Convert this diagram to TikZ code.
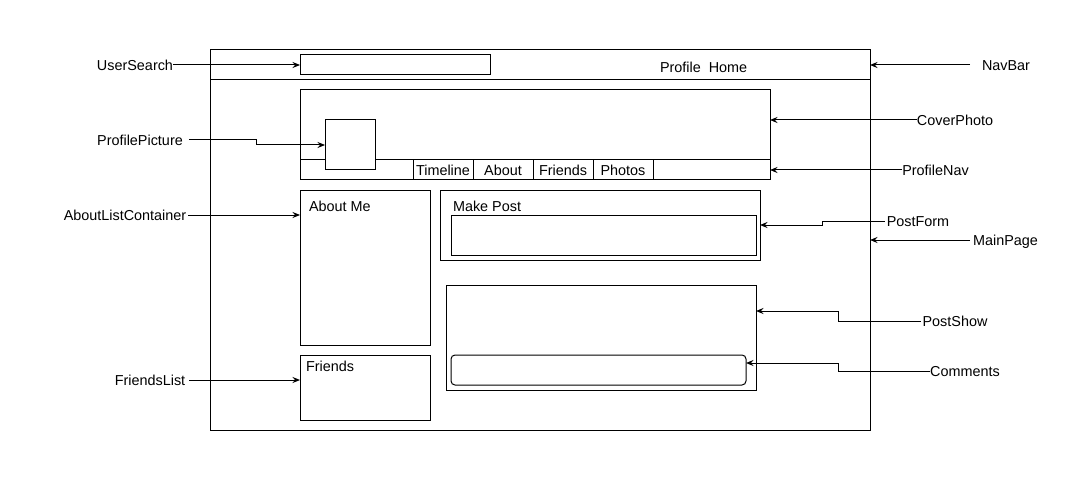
\documentclass[tikz,border=0pt]{standalone}
\usepackage{fontspec}
\setmainfont{Liberation Sans}
\usetikzlibrary{arrows.meta,calc}
\begin{document}
\begin{tikzpicture}[x=1pt,y=-1pt,
  box/.style={draw, line width=1pt, inner sep=0pt, outer sep=0pt, anchor=north west},
  lbl/.style={inner sep=0pt, outer sep=0pt, font=\fontsize{14.4}{17}\selectfont, text height=10.3pt, text depth=0pt},
  arr/.style={line width=1pt, -{Stealth[length=7.5pt,width=6pt,inset=2.5pt]}}]
\fill[white] (0,0) rectangle (1091,481);
\useasboundingbox (0,0) rectangle (1091,481);
% page frame
\node[box, minimum width=660pt, minimum height=380pt] (main) at (210,50) {};
\node[box, minimum width=660pt, minimum height=30pt] (navbar) at (210,50) {};
\node[box, minimum width=190pt, minimum height=20pt] (search) at (300,55) {};
\node[lbl, anchor=west] (plhome) at (660,67) {Profile\hspace{8pt}Home};
% cover
\node[box, minimum width=470pt, minimum height=90pt] (cover) at (300,90) {};
\node[box, minimum width=470pt, minimum height=20pt] (pnav) at (300,160) {};
\foreach \t/\n [count=\i from 0] in {Timeline/tl, About/ab, Friends/fr, Photos/ph}
  \node[box, lbl, anchor=north west, minimum width=60pt, minimum height=20pt] (\n) at (413+60*\i,160) {\t};
\node[box, fill=white, minimum width=50pt, minimum height=50pt] (pic) at (325,120) {};
% left column
\node[box, minimum width=130pt, minimum height=155pt] (aboutme) at (300,190) {};
\node[lbl, anchor=west] (abouttxt) at (309,206) {About Me};
\node[box, minimum width=130pt, minimum height=65pt] (friendsbox) at (300,355) {};
\node[lbl, anchor=west] (friendstxt) at (306,366) {Friends};
% right column
\node[box, minimum width=320pt, minimum height=70pt] (makepost) at (440,190) {};
\node[lbl, anchor=west] (mptxt) at (453,206) {Make Post};
\node[box, minimum width=305pt, minimum height=40pt] (postin) at (451,215) {};
\node[box, minimum width=310pt, minimum height=105pt] (postshow) at (446,285) {};
\node[box, rounded corners=4pt, minimum width=295pt, minimum height=30pt] (comments) at (451,355) {};
% left labels
\node[lbl] (lUser) at (135,65) {UserSearch};
\draw[arr] (lUser.east) -- (search.west);
\node[lbl, inner xsep=6pt] (lPic) at (140,140) {ProfilePicture};
\coordinate (m1) at ($(lPic.east)!.5!(pic.west)$);
\draw[arr] (lPic.east) -| (m1) |- (pic.west);
\node[lbl, inner xsep=2pt] (lAbout) at (125,215) {AboutListContainer};
\draw[arr] (lAbout.east) -- (lAbout.east -| aboutme.west);
\node[lbl, inner xsep=4pt] (lFriends) at (150,380) {FriendsList};
\draw[arr] (lFriends.east) -- (lFriends.east -| friendsbox.west);
% right labels
\node[lbl, inner xsep=12pt] (lNav) at (1006,65) {NavBar};
\draw[arr] (lNav.west) -- (navbar.east);
\node[lbl] (lCover) at (955,120) {CoverPhoto};
\draw[arr] (lCover.west) -- (lCover.west -| cover.east);
\node[lbl] (lPNav) at (935.5,170) {ProfileNav};
\draw[arr] (lPNav.west) -- (pnav.east);
\node[lbl, inner xsep=2pt] (lPost) at (918,221) {PostForm};
\coordinate (m2) at ($(lPost.west)!.5!(makepost.east)$);
\draw[arr] (lPost.west) -| (m2) |- (makepost.east);
\node[lbl, inner xsep=3pt] (lMain) at (1005.5,240) {MainPage};
\draw[arr] (lMain.west) -- (main.east);
\node[lbl, inner xsep=2pt] (lShow) at (955,321) {PostShow};
\coordinate (psIn) at ($(postshow.north east)!.2476!(postshow.south east)$);
\coordinate (m3) at ($(lShow.west)!.5!(psIn)$);
\draw[arr] (lShow.west) -| (m3) |- (psIn);
\node[lbl] (lComm) at (965,371) {Comments};
\coordinate (cmIn) at ($(comments.north east)!.2667!(comments.south east)$);
\coordinate (m4) at ($(lComm.west)!.5!(cmIn)$);
\draw[arr] (lComm.west) -| (m4) |- (cmIn);
\end{tikzpicture}
\end{document}
